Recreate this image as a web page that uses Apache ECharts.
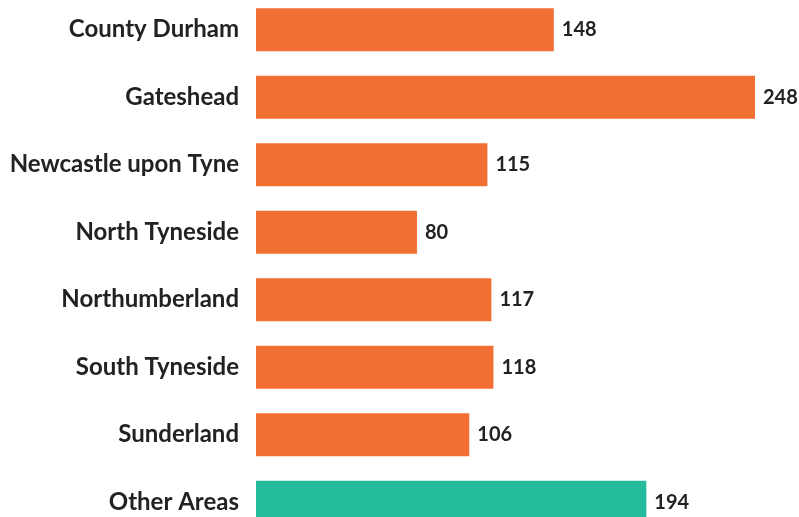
<!DOCTYPE html>
<html>
<head>
<meta charset="utf-8">
<script src="https://cdn.jsdelivr.net/npm/echarts@6/dist/echarts.min.js"></script>
<style>
html,body{margin:0;padding:0;background:#fff;overflow:hidden;width:799px;height:517px;}
#chart{position:absolute;left:0;top:-4px;width:799px;height:540px;}
</style>
</head>
<body>
<div id="chart"></div>
<script>
const categories = ["County Durham","Gateshead","Newcastle upon Tyne","North Tyneside","Northumberland","South Tyneside","Sunderland","Other Areas"];
const values = [148,248,115,80,117,118,106,194];
const barColors = ["#F26F33","#F26F33","#F26F33","#F26F33","#F26F33","#F26F33","#F26F33","#24BC9C"];

const chart = echarts.init(document.getElementById('chart'));
chart.setOption({
  animation:false,
  backgroundColor:'#ffffff',
  grid:{left:256, width:499, top:0, height:540},
  xAxis:{type:'value', min:0, max:248, show:false},
  yAxis:{type:'category', data:categories, inverse:true,
    axisLine:{show:false}, axisTick:{show:false}, splitLine:{show:false},
    axisLabel:{margin:17, color:'#222222', fontFamily:'Lato', fontWeight:'bold', fontSize:24}
  },
  series:[{
    type:'bar',
    data:values.map((v,i)=>({value:v, itemStyle:{color:barColors[i]}})),
    barWidth:43,
    label:{show:true, position:'right', distance:8, color:'#222222', fontFamily:'Lato', fontWeight:'bold', fontSize:20}
  }]
});
</script>
</body>
</html>
